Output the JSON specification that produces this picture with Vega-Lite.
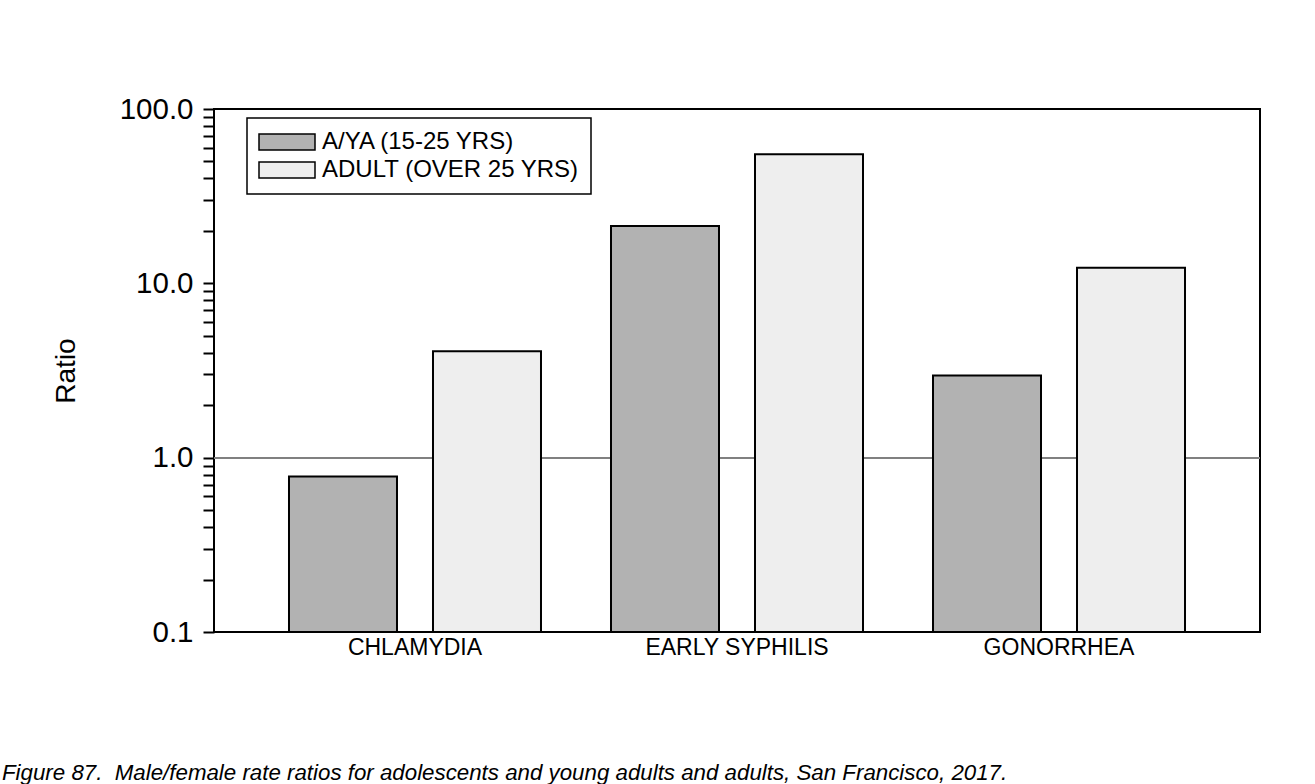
{
  "$schema": "https://vega.github.io/schema/vega-lite/v6.json",
  "width": 1046,
  "height": 523,
  "autosize": {"type": "none"},
  "padding": {"left": 214, "top": 109, "right": 55, "bottom": 152},
  "background": "white",
  "config": {
    "font": "Liberation Sans",
    "view": {"stroke": "black", "strokeWidth": 2},
    "legend": {"strokeWidth": 1.5}
  },
  "title": {
    "text": "Figure 87.\u00a0 Male/female rate ratios for adolescents and young adults and adults, San Francisco, 2017.",
    "orient": "bottom",
    "anchor": "start",
    "frame": "group",
    "dx": -212,
    "offset": 103,
    "fontSize": 22.3,
    "fontStyle": "italic",
    "fontWeight": "normal",
    "color": "black",
    "font": "Liberation Sans",
    "limit": 1300
  },
  "data": {
    "values": [
      {"disease": "CHLAMYDIA", "group": "A/YA (15-25 YRS)", "ratio": 0.78},
      {"disease": "CHLAMYDIA", "group": "ADULT (OVER 25 YRS)", "ratio": 4.08},
      {"disease": "EARLY SYPHILIS", "group": "A/YA (15-25 YRS)", "ratio": 21.3},
      {"disease": "EARLY SYPHILIS", "group": "ADULT (OVER 25 YRS)", "ratio": 55.0},
      {"disease": "GONORRHEA", "group": "A/YA (15-25 YRS)", "ratio": 2.96},
      {"disease": "GONORRHEA", "group": "ADULT (OVER 25 YRS)", "ratio": 12.3}
    ]
  },
  "layer": [
    {
      "mark": {"type": "rule", "color": "#808080", "strokeWidth": 1.5},
      "encoding": {"y": {"datum": 1, "type": "quantitative", "scale": {"type": "log", "domain": [0.1, 100], "nice": false}}}
    },
    {
      "mark": {"type": "bar", "stroke": "black", "strokeWidth": 2, "opacity": 1},
      "encoding": {
        "x": {
          "field": "disease",
          "type": "nominal",
          "sort": ["CHLAMYDIA", "EARLY SYPHILIS", "GONORRHEA"],
          "scale": {"paddingInner": 0.2174, "paddingOuter": 0.2329},
          "axis": {
            "title": null,
            "domain": false,
            "ticks": false,
            "labelAngle": 0,
            "labelFontSize": 23,
            "labelColor": "black",
            "labelPadding": 4,
            "labelLimit": 400
          }
        },
        "xOffset": {
          "field": "group",
          "type": "nominal",
          "sort": ["A/YA (15-25 YRS)", "ADULT (OVER 25 YRS)"],
          "scale": {"paddingInner": 0.25, "paddingOuter": 0}
        },
        "y": {
          "field": "ratio",
          "type": "quantitative",
          "scale": {"type": "log", "domain": [0.1, 100], "nice": false},
          "axis": {
            "title": "Ratio",
            "titleFontSize": 28,
            "titleFontWeight": "normal",
            "titleColor": "black",
            "titlePadding": 39,
            "grid": false,
            "domain": false,
            "values": [0.1, 0.2, 0.3, 0.4, 0.5, 0.6, 0.7, 0.8, 0.9, 1, 2, 3, 4, 5, 6, 7, 8, 9, 10, 20, 30, 40, 50, 60, 70, 80, 90, 100],
            "labelExpr": "indexof([0.1, 1, 10, 100], datum.value) >= 0 ? format(datum.value, '.1f') : ''",
            "labelFontSize": 29.5,
            "labelColor": "black",
            "labelPadding": 10,
            "labelOverlap": false,
            "tickColor": "black",
            "tickWidth": 2,
            "tickSize": 11
          }
        },
        "y2": {"datum": 0.1},
        "color": {
          "field": "group",
          "type": "nominal",
          "sort": ["A/YA (15-25 YRS)", "ADULT (OVER 25 YRS)"],
          "scale": {"domain": ["A/YA (15-25 YRS)", "ADULT (OVER 25 YRS)"], "range": ["#b2b2b2", "#eeeeee"]},
          "legend": {
            "title": null,
            "orient": "none",
            "legendX": 33,
            "legendY": 9,
            "padding": 12,
            "strokeColor": "black",
            "fillColor": "white",
            "symbolType": "M-3.5,-1H3.5V1H-3.5Z",
            "symbolSize": 256,
            "symbolOffset": 16,
            "symbolStrokeColor": "black",
            "symbolStrokeWidth": 1.5,
            "symbolOpacity": 1,
            "labelFontSize": 24,
            "labelColor": "black",
            "labelOffset": 23,
            "labelLimit": 500,
            "rowPadding": 4
          }
        }
      }
    }
  ]
}
